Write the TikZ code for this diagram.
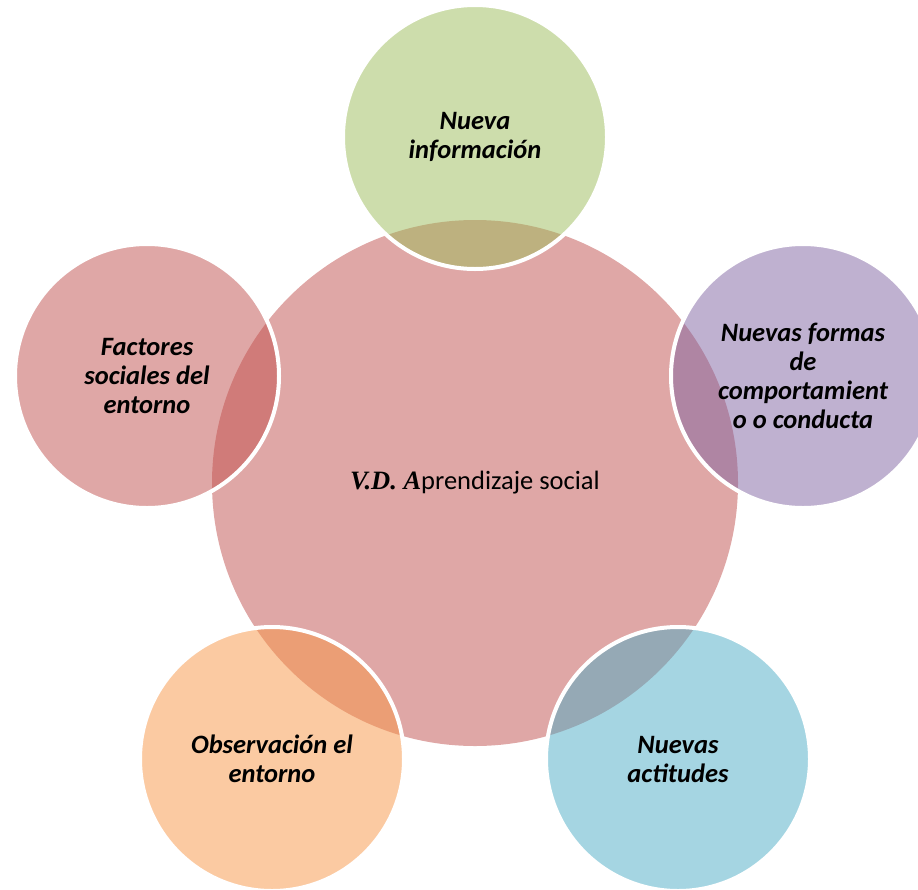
\documentclass[tikz,border=0pt]{standalone}
\usepackage{fontspec}
\setmainfont{Carlito}
\newfontfamily\vdfont{Liberation Serif}
\definecolor{grn}{HTML}{9BBB59}
\definecolor{prp}{HTML}{8064A2}
\definecolor{aqu}{HTML}{4BACC6}
\definecolor{org}{HTML}{F79646}
\definecolor{rd}{HTML}{C0504D}
\tikzset{
	sat/.style={circle, minimum size=264pt, inner sep=0pt, fill opacity=0.5, text opacity=1,
		draw=white, line width=4pt, align=center,
		font=\fontsize{26.5}{29}\selectfont\bfseries\itshape},
	hub/.style={circle, minimum size=526pt, inner sep=0pt, fill=rd, fill opacity=0.5, text opacity=1,
		font=\fontsize{26.5}{29}\selectfont}
}
\begin{document}
\begin{tikzpicture}[x=1pt,y=-1pt]
		\useasboundingbox (0,0) rectangle (918,889);
		\node[hub] (vd) at (475,483) {{\vdfont\bfseries\itshape V.D. A}prendizaje social};
		
		\node[sat, fill=grn] (info) at (475,137) {Nueva\\información};
		\node[sat, fill=prp] (forms) at (803,376) {Nuevas formas\\de\\comportamient\\o o conducta};
		\node[sat, fill=aqu] (att) at (678,759) {Nuevas\\actitudes};
		\node[sat, fill=org] (obs) at (272,759) {Observación el\\entorno};
		\node[sat, fill=rd] (fact) at (147,376) {Factores\\sociales del\\entorno};
	\end{tikzpicture}
\end{document}
